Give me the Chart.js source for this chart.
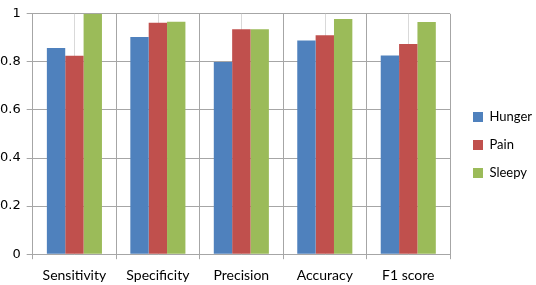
<!DOCTYPE html>
<html>
<head>
<meta charset="utf-8">
<script src="https://cdn.jsdelivr.net/npm/chart.js@4/dist/chart.umd.min.js"></script>
<style>
html,body{margin:0;padding:0;background:#fff;}
#wrap{width:536px;height:285px;position:relative;}
</style>
</head>
<body>
<div id="wrap"><canvas id="c" width="536" height="285"></canvas></div>
<script>
const categories = ["Sensitivity", "Specificity", "Precision", "Accuracy", "F1 score"];
const hunger = [0.858, 0.904, 0.799, 0.889, 0.827];
const pain   = [0.825, 0.963, 0.936, 0.911, 0.874];
const sleepy = [1.0,   0.967, 0.936, 0.978, 0.966];
const yTicks = [0, 0.2, 0.4, 0.6, 0.8, 1];

const FONT = "Lato, 'Open Sans', sans-serif";

const centerLines = {
  id: 'centerLines',
  beforeDatasetsDraw(chart) {
    const x = chart.scales.x, y = chart.scales.y, ctx = chart.ctx;
    ctx.save();
    ctx.strokeStyle = '#d9d9d9';
    ctx.lineWidth = 1;
    for (let i = 0; i < categories.length; i++) {
      const px = Math.round(x.getPixelForValue(i)) + 0.5;
      ctx.beginPath();
      ctx.moveTo(px, y.top);
      ctx.lineTo(px, y.bottom);
      ctx.stroke();
    }
    ctx.restore();
  }
};

const fixLegend = {
  id: 'fixLegend',
  afterInit(chart) {
    const lg = chart.legend;
    if (!lg) return;
    const origFit = lg.fit;
    lg.fit = function () {
      origFit.call(this);
      this.width = 86;
    };
  },
  afterLayout(chart) {
    const lg = chart.legend;
    if (!lg) return;
    lg.left += 8; lg.right += 8;
    lg.top -= 6; lg.bottom -= 6;
  }
};

new Chart(document.getElementById('c'), {
  type: 'bar',
  data: {
    labels: categories,
    datasets: [
      { label: 'Hunger', data: hunger, backgroundColor: '#4F81BD', borderWidth: 0 },
      { label: 'Pain', data: pain, backgroundColor: '#C0504D', borderWidth: 0 },
      { label: 'Sleepy', data: sleepy, backgroundColor: '#9BBB59', borderWidth: 0 }
    ]
  },
  plugins: [centerLines, fixLegend],
  options: {
    responsive: false,
    animation: false,
    devicePixelRatio: 1,
    layout: { padding: { top: 10, left: -6, right: 0, bottom: -7 } },
    datasets: { bar: { categoryPercentage: 0.66, barPercentage: 1.0 } },
    plugins: {
      legend: {
        position: 'right',
        align: 'center',
        labels: {
          boxWidth: 10,
          boxHeight: 10,
          padding: 15,
          color: '#000',
          font: { family: FONT, size: 13 }
        }
      },
      tooltip: { enabled: false }
    },
    scales: {
      x: {
        grid: { offset: true, color: '#a6a6a6', drawTicks: true, tickLength: 5, lineWidth: 1 },
        border: { display: true, color: '#a6a6a6' },
        ticks: { color: '#000', font: { family: FONT, size: 14 }, padding: 8, maxRotation: 0 }
      },
      y: {
        min: 0,
        max: 1,
        afterBuildTicks(scale) { scale.ticks = yTicks.map(v => ({ value: v })); },
        grid: { color: '#a6a6a6', tickLength: 6 },
        border: { display: true, color: '#a6a6a6' },
        ticks: {
          color: '#000',
          font: { family: "'DejaVu Sans', sans-serif", size: 13 },
          padding: 6,
          callback: v => String(v)
        }
      }
    }
  }
});
</script>
</body>
</html>
